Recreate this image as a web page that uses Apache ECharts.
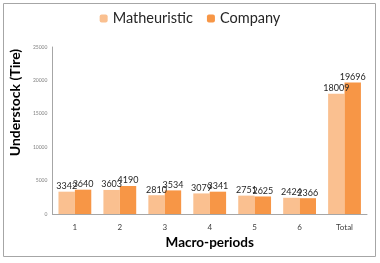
<!DOCTYPE html>
<html><head><meta charset="utf-8">
<script src="https://cdn.jsdelivr.net/npm/echarts@6/dist/echarts.min.js"></script>
<style>html,body{margin:0;padding:0;background:#fff}#c{width:380px;height:263px}</style>
</head><body><div id="c"></div>
<script>
const categories = ['1','2','3','4','5','6','Total'];
const matheuristic = [3342,3603,2810,3079,2751,2424,18009];
const company = [3640,4190,3534,3341,2625,2366,19696];
const yTicks = [0,5000,10000,15000,20000,25000];

const chart = echarts.init(document.getElementById('c'), null, {renderer:'canvas'});
const font = 'Lato, "Open Sans", "DejaVu Sans", sans-serif';
const lbl = {show:true, position:'top', distance:1, fontSize:9, color:'#262626', fontFamily:font};
chart.setOption({
  animation:false,
  textStyle:{fontFamily:font},
  graphic:[{type:'rect', shape:{x:3.5,y:3.5,width:372,height:253}, style:{fill:'none', stroke:'#a6a6a6', lineWidth:1}}],
  legend:{top:6, left:'center', itemWidth:8, itemHeight:8, itemGap:14,
    textStyle:{fontSize:14.5, color:'#262626', fontFamily:font},
    data:['Matheuristic','Company']},
  grid:{left:43, right:13, top:47, bottom:49},
  xAxis:{type:'category', data:categories,
    axisLine:{lineStyle:{color:'#a6a6a6'}}, axisTick:{show:false},
    axisLabel:{fontSize:8, color:'#404040', margin:9},
    name:'Macro-periods', nameLocation:'middle', nameGap:22,
    nameTextStyle:{fontSize:13.5, fontWeight:'bold', color:'#000', fontFamily:font}},
  yAxis:{type:'value', min:yTicks[0], max:yTicks[yTicks.length-1], interval:5000,
    axisLine:{show:true, lineStyle:{color:'#a6a6a6'}}, axisTick:{show:false},
    splitLine:{show:false},
    axisLabel:{fontSize:5, color:'#808080', margin:5, formatter:(v)=>String(v)},
    name:'Understock (Tire)', nameLocation:'middle', nameGap:22, nameRotate:90,
    nameTextStyle:{fontSize:14, fontWeight:'bold', color:'#000', fontFamily:font, padding:[0,0,0,56]}},
  series:[
    {name:'Matheuristic', type:'bar', data:matheuristic, barGap:'0%', barCategoryGap:'27%',
     itemStyle:{color:'#fac090'}, label:lbl},
    {name:'Company', type:'bar', data:company, barGap:'0%', barCategoryGap:'27%',
     itemStyle:{color:'#f79646'}, label:lbl}
  ]
});
</script></body></html>
